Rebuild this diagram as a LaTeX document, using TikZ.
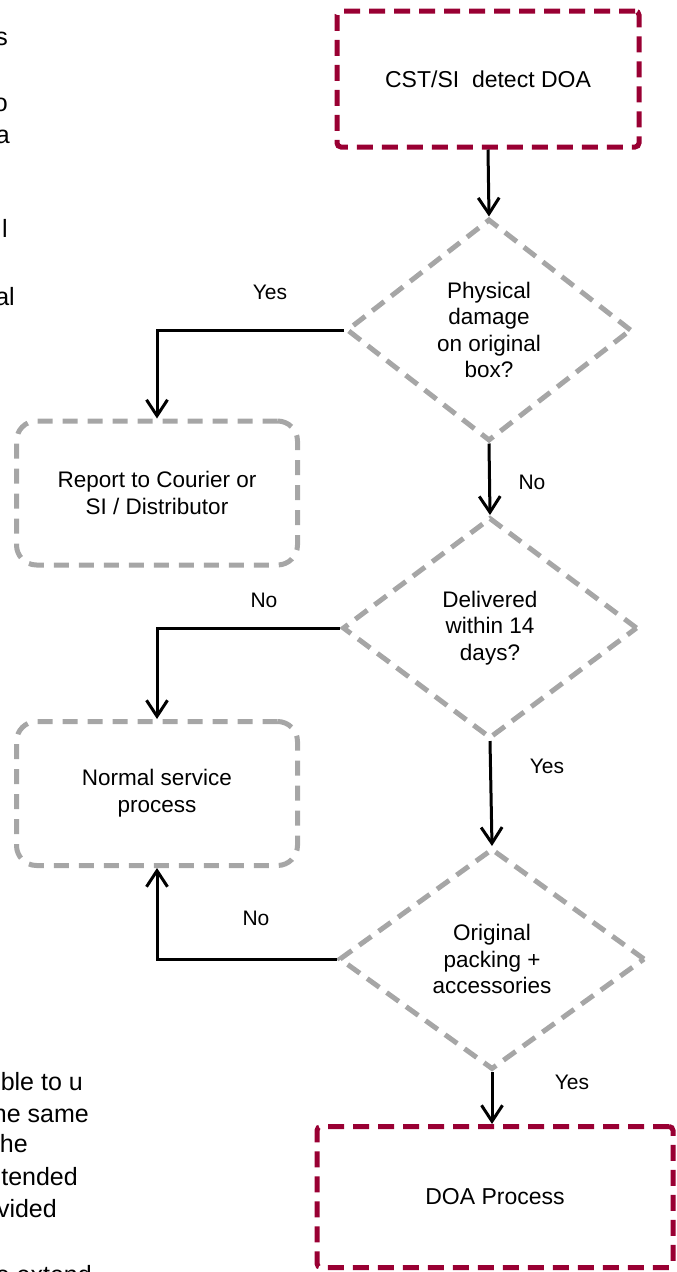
\documentclass[tikz,border=0pt]{standalone}
\usepackage{fontspec}
\setmainfont{Liberation Sans}
\usetikzlibrary{shapes.geometric,arrows.meta}
\definecolor{maroon}{RGB}{153,0,51}
\definecolor{dgray}{RGB}{166,166,166}
\begin{document}
\begin{tikzpicture}[x=1pt,y=-1pt,
  conn/.style={line width=3pt, -{Straight Barb[length=16pt,width=21pt]}},
  redbox/.style={draw=maroon, line width=5pt, dash pattern=on 16pt off 9pt, rounded corners=4pt,
    minimum width=302pt, minimum height=136pt, inner sep=0pt, align=center,
    font=\fontsize{23}{28}\selectfont},
  graybox/.style={draw=dgray, line width=5pt, dash pattern=on 15pt off 10pt, rounded corners=20pt,
    minimum width=281pt, minimum height=144pt, inner sep=0pt, align=center,
    font=\fontsize{22.5}{27}\selectfont},
  dec/.style={diamond, draw=dgray, line width=5pt, dash pattern=on 15pt off 9pt, inner sep=0pt,
    aspect=1.3, align=center, font=\fontsize{22.5}{26.5}\selectfont},
  lbl/.style={inner sep=0pt, font=\fontsize{21}{24}\selectfont},
  frag/.style={anchor=base east, inner sep=0pt, font=\fontsize{25}{30}\selectfont}
]
\useasboundingbox (0,0) rectangle (677,1272);
\clip (0,0) rectangle (677,1272);

% cut-off fragments of side text
\node[frag] (t1) at (8,45) {s};
\node[frag] (t2) at (8,111) {o};
\node[frag] (t3) at (10,143) {a};
\node[frag] (t4) at (8,237) {l};
\node[frag] (t5) at (15,305) {al};
\node[frag] (b1) at (83,1090) {ble to u};
\node[frag] (b2) at (89,1122) {he same};
\node[frag] (b3) at (28,1152) {he};
\node[frag] (b4) at (78,1185) {tended};
\node[frag] (b5) at (57,1217) {vided};
\node[frag] (b6) at (92,1283) {e extend};

% nodes
\node[redbox] (cst) at (488,79) {CST/SI\ \ detect DOA};
\node[dec, minimum width=285pt, minimum height=222pt] (d1) at (489,330) {Physical\\damage\\on original\\box?};
\node[graybox] (rep) at (157,493) {Report to Courier or\\SI / Distributor};
\node[dec, minimum width=295pt, minimum height=221pt] (d2) at (490,628) {Delivered\\within 14\\days?};
\node[graybox] (nsp) at (157,793.5) {Normal service\\process};
\node[dec, minimum width=306pt, minimum height=221pt] (d3) at (492,959) {Original\\packing +\\accessories};
\node[redbox, minimum width=356pt, minimum height=141pt] (doa) at (495,1197) {DOA Process};

% labels
\node[lbl] (l1) at (270,292) {Yes};
\node[lbl] (l2) at (532,482) {No};
\node[lbl] (l3) at (264,600) {No};
\node[lbl] (l4) at (547,766) {Yes};
\node[lbl] (l5) at (256,918) {No};
\node[lbl] (l6) at (572,1082) {Yes};

% connectors
\draw[conn] (cst.south) -- (d1.north);
\draw[conn] (d1.west) -| (rep.north);
\draw[conn] (d1.south) -- (d2.north);
\draw[conn] (d2.west) -| (nsp.north);
\draw[conn] (d2.south) -- (d3.north);
\draw[conn] (d3.west) -| (nsp.south);
\draw[conn] (d3.south) -- (d3.south |- doa.north);
\end{tikzpicture}
\end{document}
